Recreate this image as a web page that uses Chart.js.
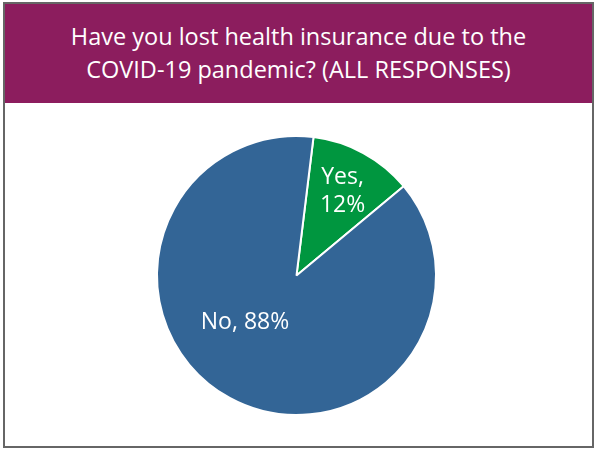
<!DOCTYPE html>
<html>
<head>
<meta charset="utf-8">
<script src="https://cdn.jsdelivr.net/npm/chart.js@4"></script>
<style>
  body { margin: 0; background: #fff; font-family: "Open Sans", sans-serif; }
  #frame { position: absolute; left: 3px; top: 2px; width: 591px; height: 446px; box-sizing: border-box; border: 2px solid #666; }
  #banner { position: absolute; left: 0; top: 0; right: 0; height: 99px; background: #8c1d5e; color: #fff;
            font-size: 23.5px; line-height: 33px; text-align: center; padding-top: 16px; box-sizing: border-box; }
  #wrap { position: absolute; left: 0; top: 99px; width: 587px; height: 343px; }
</style>
</head>
<body>
<div id="frame">
  <div id="banner">Have you lost health insurance due to the<br>COVID-19 pandemic? (ALL RESPONSES)</div>
  <div id="wrap"><canvas id="pieChart"></canvas></div>
</div>
<script>
const categories = ["Yes", "No"];
const shares = [12, 88];
const sliceColors = ["#00963f", "#336596"];

// label placement tweaks (angle offset in degrees, radius fraction)
const labelAngleShift = [0, 19];
const labelRadius = [0.69, 0.5];

const sliceLabels = {
  id: "sliceLabels",
  afterDatasetsDraw(chart) {
    const ctx = chart.ctx;
    const arcs = chart.getDatasetMeta(0).data;
    ctx.save();
    ctx.fillStyle = "#fff";
    ctx.font = "23px 'Open Sans'";
    ctx.textAlign = "center";
    ctx.textBaseline = "middle";
    arcs.forEach((arc, i) => {
      const p = arc.getProps(["x", "y", "startAngle", "endAngle", "outerRadius"], true);
      const a = (p.startAngle + p.endAngle) / 2 + labelAngleShift[i] * Math.PI / 180;
      const r = p.outerRadius * labelRadius[i];
      const x = p.x + Math.cos(a) * r;
      const y = p.y + Math.sin(a) * r;
      if (i === 0) {
        ctx.fillText(categories[i] + ",", x, y - 14);
        ctx.fillText(shares[i] + "%", x, y + 14);
      } else {
        ctx.fillText(categories[i] + ", " + shares[i] + "%", x, y);
      }
    });
    ctx.restore();
  }
};

new Chart(document.getElementById("pieChart").getContext("2d"), {
  type: "pie",
  data: {
    labels: categories,
    datasets: [{
      data: shares,
      backgroundColor: sliceColors,
      borderColor: "#fff",
      borderWidth: 2,
    }],
  },
  options: {
    responsive: true,
    maintainAspectRatio: false,
    animation: false,
    rotation: 7,
    layout: { padding: { top: 32, bottom: 30, left: 0, right: 4 } },
    plugins: {
      legend: { display: false },
      tooltip: { enabled: false },
    },
  },
  plugins: [sliceLabels],
});
</script>
</body>
</html>
